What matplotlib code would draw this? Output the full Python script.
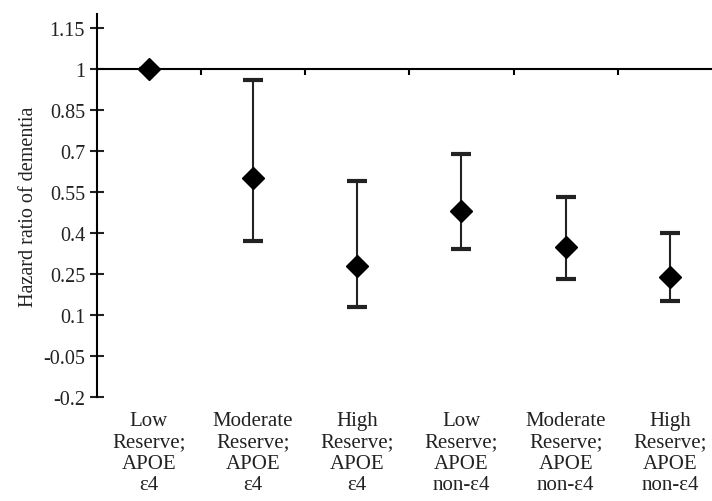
import numpy as np
import matplotlib.pyplot as plt
from matplotlib import transforms

# categories and hazard ratios
labels = ["Low\nReserve;\nAPOE\nε4", "Moderate\nReserve;\nAPOE\nε4", "High\nReserve;\nAPOE\nε4",
          "Low\nReserve;\nAPOE\nnon-ε4", "Moderate\nReserve;\nAPOE\nnon-ε4", "High\nReserve;\nAPOE\nnon-ε4"]
hr = [1.0, 0.60, 0.28, 0.48, 0.35, 0.24]
lower = [1.0, 0.37, 0.13, 0.34, 0.23, 0.15]
upper = [1.0, 0.96, 0.59, 0.69, 0.53, 0.40]
yticks = [-0.2, -0.05, 0.1, 0.25, 0.4, 0.55, 0.7, 0.85, 1, 1.15]

plt.rcParams['font.family'] = ['Liberation Serif', 'DejaVu Serif']

fig = plt.figure(figsize=(7.12, 5.02), dpi=100)
ax = fig.add_axes([0.136, 0.207, 0.878, 0.763])

x = np.arange(len(hr)) + 0.5
hr = np.array(hr)
err = [hr - np.array(lower), np.array(upper) - hr]
ax.errorbar(x, hr, yerr=err, fmt='D', color='black', ecolor='#222222', elinewidth=1.5,
            capsize=7, capthick=3, markersize=11, zorder=3)

ax.set_xlim(0, 6)
ax.set_ylim(-0.2, 1.2)
ax.set_yticks(yticks)
ax.set_yticklabels(["-0.2", "-0.05", "0.1", "0.25", "0.4", "0.55", "0.7", "0.85", "1", "1.15"])
ax.tick_params(axis='y', direction='inout', length=10, width=1.5, labelsize=14.5, colors='#222222')

ax.spines['top'].set_visible(False)
ax.spines['right'].set_visible(False)
ax.spines['left'].set_linewidth(1.5)
ax.spines['bottom'].set_position(('data', 1))
ax.spines['bottom'].set_linewidth(1.5)
ax.set_xticks(np.arange(1, 6))
ax.set_xticklabels([])
ax.tick_params(axis='x', direction='out', length=4, width=1.5)

trans = transforms.blended_transform_factory(ax.transData, ax.transAxes)
for xi, lab in zip(x, labels):
    ax.text(xi, -0.037, lab, transform=trans, ha='center', va='top', fontsize=15,
            linespacing=1.17, color='#222222')

ax.set_ylabel("Hazard ratio of dementia", fontsize=14.5, color='#222222', labelpad=4)

fig.savefig("out.png", dpi=100)
